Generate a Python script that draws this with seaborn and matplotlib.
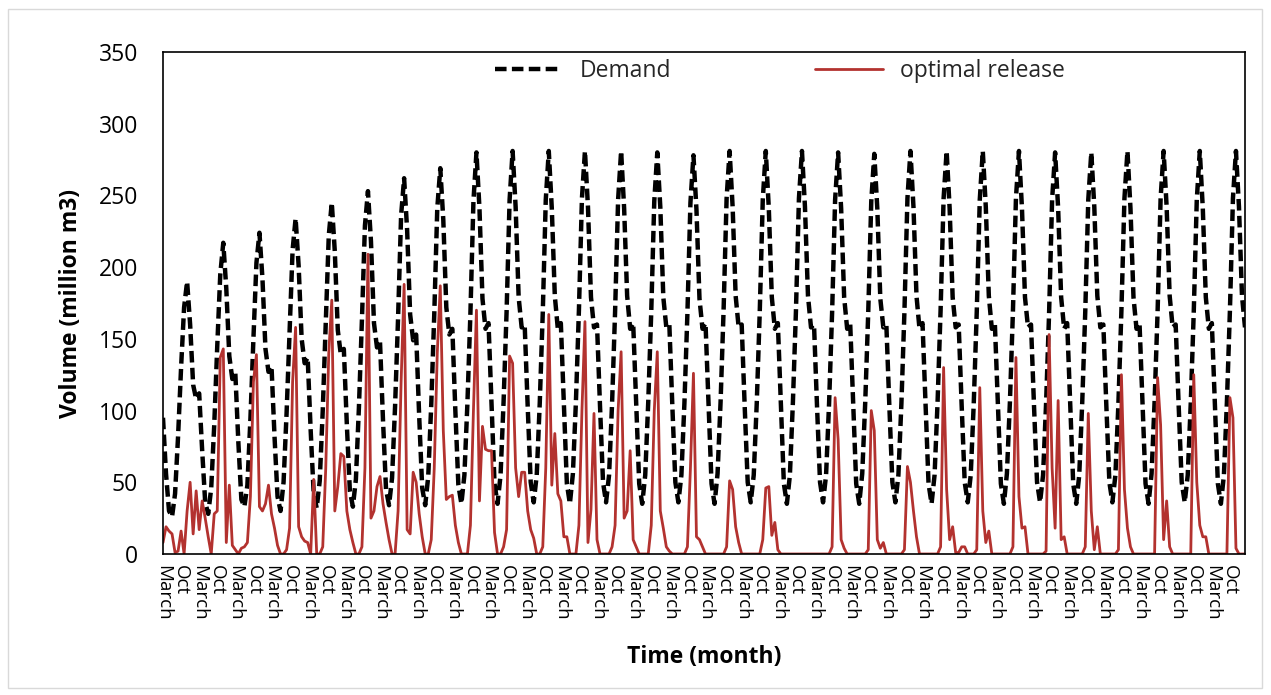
import matplotlib
matplotlib.use("Agg")
import matplotlib.pyplot as plt
import pandas as pd
import seaborn as sns
from matplotlib.patches import Rectangle

# Monthly demand (million m3), 30 years x 12 months, starting in March
demand = [
    95, 56, 30, 26, 42, 82, 130, 172, 190, 160, 118, 108,
    112, 72, 36, 28, 46, 90, 145, 195, 217, 185, 138, 122,
    126, 78, 38, 33, 48, 94, 150, 203, 224, 192, 143, 127,
    131, 82, 40, 30, 50, 98, 156, 212, 234, 201, 150, 133,
    137, 86, 42, 32, 51, 100, 160, 222, 245, 211, 156, 139,
    143, 90, 44, 33, 52, 102, 163, 229, 253, 218, 161, 144,
    148, 93, 45, 34, 53, 103, 165, 236, 262, 226, 167, 149,
    153, 96, 46, 34, 54, 104, 167, 241, 269, 233, 172, 153,
    157, 100, 48, 35, 55, 105, 168, 246, 280, 241, 178, 157,
    161, 104, 49, 35, 55, 106, 169, 247, 281, 242, 179, 158,
    160, 103, 50, 36, 55, 105, 168, 247, 281, 241, 180, 157,
    161, 104, 49, 35, 56, 106, 170, 248, 281, 242, 179, 158,
    160, 103, 50, 36, 55, 105, 169, 247, 281, 241, 180, 157,
    161, 104, 49, 35, 55, 106, 169, 246, 280, 242, 179, 158,
    160, 103, 50, 36, 55, 105, 168, 245, 278, 240, 178, 157,
    161, 104, 49, 35, 56, 106, 170, 248, 281, 242, 180, 158,
    160, 103, 50, 36, 55, 105, 169, 247, 281, 241, 179, 157,
    161, 104, 49, 35, 55, 106, 169, 248, 281, 242, 180, 158,
    160, 103, 50, 36, 55, 105, 168, 247, 280, 241, 179, 157,
    161, 104, 49, 35, 56, 106, 169, 246, 279, 241, 178, 158,
    160, 103, 50, 36, 55, 105, 169, 248, 281, 242, 180, 157,
    161, 104, 49, 35, 55, 106, 170, 248, 281, 241, 179, 158,
    160, 103, 50, 36, 55, 105, 169, 247, 281, 242, 180, 157,
    161, 104, 49, 35, 56, 106, 169, 248, 281, 241, 179, 158,
    160, 103, 50, 36, 55, 105, 168, 247, 280, 241, 179, 157,
    161, 104, 49, 35, 55, 106, 169, 247, 280, 242, 180, 158,
    160, 103, 50, 36, 55, 105, 170, 248, 281, 241, 179, 157,
    161, 104, 49, 35, 56, 106, 169, 248, 281, 242, 180, 158,
    160, 103, 50, 36, 55, 105, 169, 247, 281, 241, 179, 157,
    161, 104, 49, 35, 55, 106, 170, 248, 281, 242, 180, 158,
]

# Monthly optimal release (million m3)
release = [
    8, 19, 16, 14, 1, 2, 16, 0, 30, 50, 14, 44,
    17, 37, 25, 12, 0, 28, 30, 137, 143, 8, 48, 6,
    3, 0, 4, 5, 8, 40, 120, 139, 33, 30, 35, 48,
    28, 18, 6, 0, 0, 3, 18, 120, 158, 19, 12, 9,
    8, 0, 52, 0, 0, 5, 60, 140, 177, 30, 47, 70,
    68, 30, 17, 8, 0, 0, 5, 60, 209, 25, 30, 47,
    54, 35, 22, 10, 0, 0, 30, 120, 188, 17, 14, 57,
    50, 28, 12, 0, 0, 10, 60, 140, 187, 86, 38, 40,
    41, 20, 8, 0, 0, 0, 20, 100, 170, 37, 89, 73,
    72, 72, 15, 0, 0, 5, 17, 138, 133, 60, 40, 57,
    57, 30, 17, 11, 0, 0, 5, 60, 167, 48, 84, 42,
    37, 12, 12, 0, 0, 0, 20, 100, 162, 8, 31, 98,
    10, 0, 0, 0, 0, 5, 20, 100, 141, 25, 30, 72,
    10, 5, 0, 0, 0, 0, 20, 100, 141, 30, 18, 5,
    2, 0, 0, 0, 0, 0, 5, 60, 126, 12, 10, 5,
    0, 0, 0, 0, 0, 0, 0, 5, 51, 45, 19, 8,
    0, 0, 0, 0, 0, 0, 0, 10, 46, 47, 13, 22,
    3, 0, 0, 0, 0, 0, 0, 0, 0, 0, 0, 0,
    0, 0, 0, 0, 0, 0, 5, 109, 80, 10, 4, 0,
    0, 0, 0, 0, 0, 0, 3, 100, 86, 10, 4, 8,
    0, 0, 0, 0, 0, 0, 3, 61, 50, 30, 12, 0,
    0, 0, 0, 0, 0, 0, 5, 130, 45, 10, 19, 1,
    1, 5, 5, 0, 0, 0, 3, 116, 30, 8, 16, 0,
    0, 0, 0, 0, 0, 0, 5, 137, 40, 18, 19, 0,
    0, 0, 0, 0, 0, 2, 153, 60, 18, 107, 10, 12,
    0, 0, 0, 0, 0, 0, 5, 98, 30, 3, 19, 0,
    0, 0, 0, 0, 0, 3, 125, 45, 18, 5, 0, 0,
    0, 0, 0, 0, 0, 0, 123, 90, 10, 37, 5, 0,
    0, 0, 0, 0, 0, 0, 125, 50, 20, 12, 12, 0,
    0, 0, 0, 0, 0, 0, 109, 95, 4, 0, 0, 0,
]

tick_labels = ["March", "Oct"] * 30
y_ticks = [0, 50, 100, 150, 200, 250, 300, 350]

sns.set_theme(style="white")
plt.rcParams["font.family"] = ["Open Sans", "DejaVu Sans"]

df = pd.DataFrame({"month": list(range(len(demand))),
                   "Demand": demand,
                   "optimal release": release})

fig = plt.figure(figsize=(12.71, 6.95), dpi=100)
ax = fig.add_axes([163 / 1271, 1 - 554 / 695, (1245 - 163) / 1271, (554 - 52) / 695])

sns.lineplot(data=df, x="month", y="Demand", ax=ax, color="black",
             linewidth=3.2, linestyle=(0, (2.6, 1.2)), label="Demand")
sns.lineplot(data=df, x="month", y="optimal release", ax=ax, color="#B3322F",
             linewidth=2.0, label="optimal release")

ax.set_xlim(0, len(demand) - 1)
ax.set_ylim(0, 350)
ax.set_yticks(y_ticks)
ax.set_yticklabels([str(v) for v in y_ticks], fontsize=16.5)
ax.set_xticks(list(range(0, len(demand), 6)))
ax.set_xticklabels(tick_labels, rotation=270, fontsize=13.5)
ax.tick_params(axis="y", length=0, pad=18, colors="black")
ax.tick_params(axis="x", length=0, pad=8, colors="black")

for s in ax.spines.values():
    s.set_visible(True)
    s.set_color("black")
    s.set_linewidth(1.2)

ax.set_ylabel("Volume (million m3)", fontsize=16.5, fontweight="bold", color="black")
ax.yaxis.set_label_coords(-0.074, 0.5)
ax.set_xlabel("Time (month)", fontsize=16.5, fontweight="bold", color="black")
ax.xaxis.set_label_coords(0.5, -0.181)

ax.legend(loc="center", bbox_to_anchor=(0.570, 0.962), ncol=2, frameon=False,
          fontsize=16.5, handlelength=2.95, handletextpad=0.75, columnspacing=6.3)

fig.patches.append(Rectangle((8 / 1271, 7 / 695), 1254 / 1271, 679 / 695,
                             transform=fig.transFigure, fill=False,
                             edgecolor="#D9D9D9", linewidth=1.0))

fig.savefig("out.png", dpi=100, facecolor="white")
